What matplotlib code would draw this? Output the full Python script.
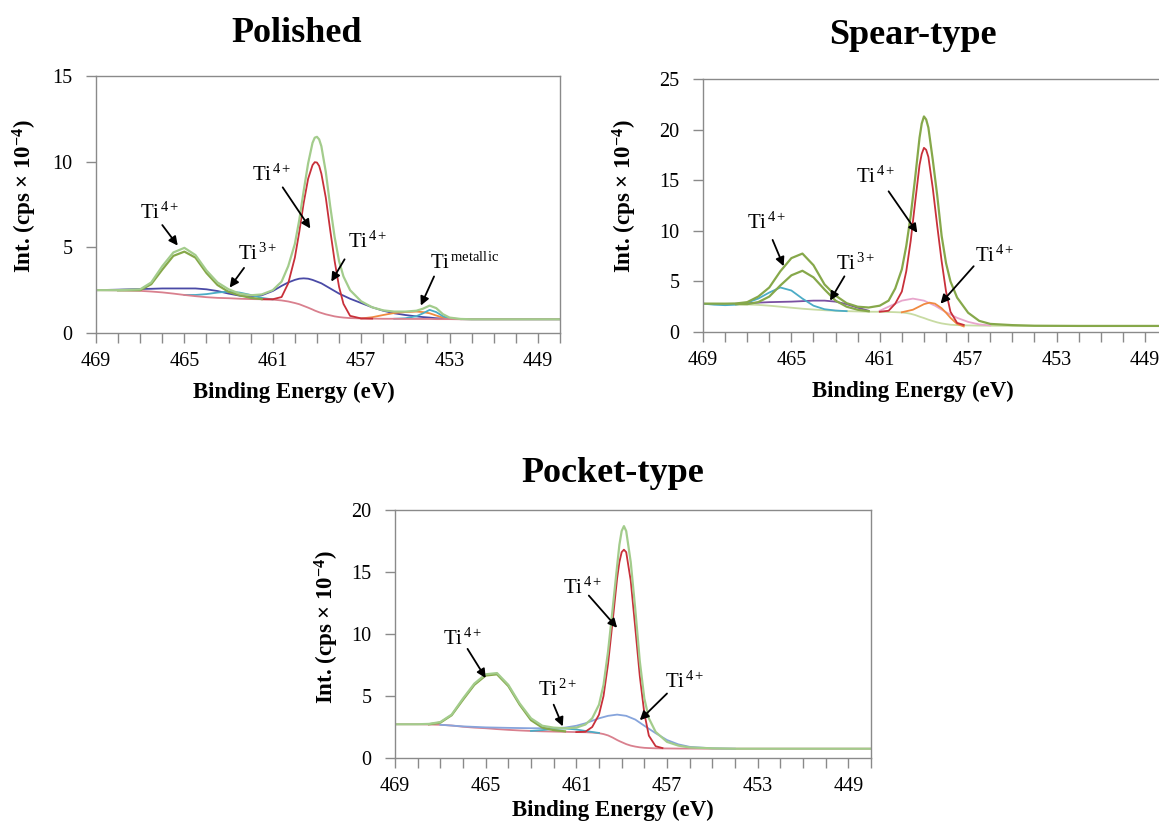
import matplotlib
matplotlib.use("Agg")
import matplotlib.pyplot as plt
from matplotlib.ticker import FixedLocator, MultipleLocator

plt.rcParams["font.family"] = "Liberation Serif"
plt.rcParams["mathtext.fontset"] = "custom"
plt.rcParams["mathtext.rm"] = "Liberation Serif"
plt.rcParams["mathtext.it"] = "Liberation Serif:italic"
plt.rcParams["mathtext.bf"] = "Liberation Serif:bold"

# ---------------- Polished ----------------
pol_be = [469, 468, 467, 466.5, 466, 465.5, 465, 464.5, 464, 463.5, 463, 462.5, 462, 461.5, 461,
          460.6, 460.3, 460.0, 459.8, 459.6, 459.4, 459.2, 459.1, 459.0, 458.9, 458.8, 458.6, 458.4,
          458.2, 458.0, 457.8, 457.5, 457.0, 456.5, 456.0, 455.5, 455.0, 454.5, 454.2, 453.9, 453.6,
          453.3, 453.0, 452.5, 452.0, 450.0, 448.0]
pol_env = [2.50, 2.50, 2.55, 2.95, 3.90, 4.70, 4.97, 4.55, 3.65, 2.95, 2.55, 2.30, 2.20, 2.25, 2.50,
           3.00, 3.90, 5.20, 6.60, 8.30, 9.90, 11.10, 11.40, 11.45, 11.30, 10.90, 9.40, 7.40,
           5.60, 4.20, 3.30, 2.50, 1.85, 1.50, 1.32, 1.25, 1.25, 1.30, 1.42, 1.60, 1.45,
           1.10, 0.90, 0.82, 0.80, 0.80, 0.80]
pol_bg = [2.50, 2.49, 2.46, 2.42, 2.37, 2.30, 2.22, 2.15, 2.09, 2.05, 2.03, 2.00, 1.98, 1.97, 1.95,
          1.90, 1.84, 1.75, 1.68, 1.58, 1.48, 1.37, 1.31, 1.26, 1.21, 1.17, 1.09, 1.03,
          0.97, 0.93, 0.90, 0.87, 0.85, 0.84, 0.83, 0.83, 0.82, 0.82, 0.82, 0.82, 0.81,
          0.81, 0.81, 0.80, 0.80, 0.80, 0.80]
pol_broad = [2.50, 2.53, 2.57, 2.58, 2.60, 2.60, 2.60, 2.60, 2.55, 2.45, 2.30, 2.18, 2.12, 2.20, 2.45,
             2.75, 2.95, 3.10, 3.17, 3.19, 3.17, 3.10, 3.05, 3.00, 2.95, 2.90, 2.75, 2.60,
             2.45, 2.30, 2.18, 2.00, 1.75, 1.50, 1.30, 1.15, 1.05, 0.97, 0.93, 0.90, 0.86,
             0.84, 0.82, 0.81, 0.80, 0.80, 0.80]
pol_red_be = [461.5, 461, 460.6, 460.3, 460.0, 459.8, 459.6, 459.4, 459.2, 459.1, 459.0, 458.9,
              458.8, 458.6, 458.4, 458.2, 458.0, 457.8, 457.5, 457.0, 456.5]
pol_red = [1.97, 1.97, 2.10, 2.90, 4.40, 5.90, 7.60, 9.00, 9.80, 9.97, 9.95, 9.75,
           9.30, 7.90, 6.00, 4.20, 2.70, 1.70, 1.00, 0.85, 0.84]
pol_sat_be = [468, 467, 466.5, 466, 465.5, 465, 464.5, 464, 463.5, 463, 462.5, 462, 461.5]
pol_sat = [2.49, 2.50, 2.85, 3.70, 4.50, 4.75, 4.40, 3.50, 2.80, 2.40, 2.20, 2.05, 1.98]
pol_ti3_be = [465, 464.5, 464, 463.5, 463, 462.5, 462, 461.5, 461]
pol_ti3 = [2.22, 2.22, 2.27, 2.36, 2.42, 2.36, 2.22, 2.05, 1.96]
pol_meta_be = [457.0, 456.5, 456.0, 455.5, 455.0, 454.5, 454.2, 453.9, 453.6, 453.3, 453.0, 452.5]
pol_meta = [0.85, 0.92, 1.05, 1.17, 1.22, 1.25, 1.22, 1.15, 1.02, 0.90, 0.83, 0.81]
pol_metb_be = [455.5, 455.0, 454.5, 454.2, 453.9, 453.6, 453.3, 453.0, 452.5]
pol_metb = [0.83, 0.86, 0.98, 1.15, 1.35, 1.22, 0.98, 0.85, 0.81]

# ---------------- Spear-type ----------------
sp_be = [469, 468, 467.5, 467, 466.5, 466, 465.5, 465, 464.5, 464, 463.5, 463, 462.5, 462, 461.5, 461,
         460.6, 460.3, 460.0, 459.8, 459.6, 459.4, 459.2, 459.1, 459.0, 458.9, 458.8, 458.6, 458.4,
         458.2, 458.0, 457.8, 457.5, 457.0, 456.5, 456, 455, 454, 452, 450, 448]
sp_env = [2.80, 2.80, 2.82, 2.95, 3.50, 4.40, 6.00, 7.30, 7.75, 6.60, 4.70, 3.60, 2.85, 2.50, 2.42, 2.60,
          3.10, 4.30, 6.20, 8.50, 11.50, 15.20, 19.20, 20.60, 21.30, 21.00, 20.20, 17.00, 13.50,
          9.50, 6.80, 5.00, 3.40, 1.90, 1.10, 0.80, 0.68, 0.62, 0.60, 0.60, 0.60]
sp_bg = [2.80, 2.78, 2.75, 2.72, 2.68, 2.60, 2.50, 2.40, 2.30, 2.22, 2.15, 2.10, 2.06, 2.03, 2.00, 2.00,
         1.98, 1.96, 1.93, 1.88, 1.80, 1.68, 1.52, 1.45, 1.38, 1.30, 1.22, 1.08, 0.95,
         0.85, 0.78, 0.72, 0.68, 0.65, 0.63, 0.62, 0.61, 0.60, 0.60, 0.60, 0.60]
sp_red_be = [461, 460.6, 460.3, 460.0, 459.8, 459.6, 459.4, 459.2, 459.1, 459.0, 458.9, 458.8,
             458.6, 458.4, 458.2, 458.0, 457.8, 457.5, 457.2]
sp_red = [2.0, 2.1, 2.8, 4.0, 6.0, 9.0, 12.8, 16.5, 17.6, 18.2, 18.0, 17.3,
          14.2, 10.5, 7.0, 4.0, 2.0, 0.9, 0.7]
sp_sat_be = [467.5, 467, 466.5, 466, 465.5, 465, 464.5, 464, 463.5, 463, 462.5, 462, 461.5]
sp_sat = [2.75, 2.75, 2.95, 3.5, 4.6, 5.6, 6.05, 5.4, 4.2, 3.1, 2.5, 2.2, 2.05]
sp_teal_be = [469, 468.5, 468, 467.5, 467, 466.5, 466, 465.5, 465, 464.5, 464, 463.5, 463, 462.5]
sp_teal = [2.8, 2.7, 2.65, 2.7, 2.9, 3.3, 3.9, 4.4, 4.1, 3.3, 2.6, 2.25, 2.12, 2.06]
sp_ti3_be = [467.5, 467, 466.5, 466, 465, 464, 463.5, 463, 462.5, 462, 461.5]
sp_ti3 = [2.8, 2.85, 2.9, 2.95, 3.0, 3.1, 3.1, 3.0, 2.75, 2.4, 2.1]
sp_pink_be = [461, 460.5, 460.0, 459.5, 459.0, 458.5, 458.0, 457.5, 457.0, 456.5, 456]
sp_pink = [2.1, 2.6, 3.1, 3.3, 3.1, 2.6, 1.95, 1.4, 1.0, 0.75, 0.65]
sp_or_be = [460, 459.5, 459.0, 458.75, 458.5, 458.2, 458.0, 457.8, 457.5, 457.2]
sp_or = [1.95, 2.2, 2.75, 2.9, 2.8, 2.35, 1.9, 1.4, 0.8, 0.55]

# ---------------- Pocket-type ----------------
pk_be = sp_be
pk_env = [2.72, 2.72, 2.75, 2.90, 3.50, 4.80, 6.00, 6.75, 6.85, 5.90, 4.40, 3.20, 2.60, 2.45, 2.40, 2.45,
          2.70, 3.20, 4.30, 5.90, 8.60, 12.00, 15.50, 17.20, 18.30, 18.70, 18.30, 15.80, 12.00,
          7.80, 4.80, 3.20, 2.10, 1.30, 1.00, 0.85, 0.78, 0.75, 0.75, 0.75, 0.75]
pk_bg = [2.72, 2.72, 2.70, 2.68, 2.62, 2.52, 2.45, 2.40, 2.33, 2.27, 2.22, 2.18, 2.15, 2.13, 2.11, 2.09,
         2.08, 2.05, 2.00, 1.93, 1.82, 1.65, 1.45, 1.36, 1.28, 1.20, 1.12, 1.00, 0.92,
         0.86, 0.82, 0.80, 0.78, 0.77, 0.76, 0.76, 0.75, 0.75, 0.75, 0.75, 0.75]
pk_red_be = sp_red_be
pk_red = [2.09, 2.12, 2.5, 3.5, 5.0, 7.6, 11.0, 14.5, 15.8, 16.6, 16.8, 16.6,
          14.3, 10.5, 6.6, 3.6, 1.8, 0.95, 0.8]
pk_blue_be = [467, 466, 465, 464, 463, 462, 461.5, 461, 460.6, 460.3, 460.0, 459.6, 459.2, 458.8,
              458.4, 458.0, 457.5, 457.0, 456.5, 456, 455, 454]
pk_blue = [2.68, 2.55, 2.47, 2.43, 2.4, 2.4, 2.45, 2.6, 2.8, 3.0, 3.2, 3.4, 3.5, 3.4,
           3.1, 2.6, 2.0, 1.45, 1.1, 0.9, 0.78, 0.75]
pk_sat_be = [467.5, 467, 466.5, 466, 465.5, 465, 464.5, 464, 463.5, 463, 462.5, 462, 461.5]
pk_sat = [2.72, 2.85, 3.45, 4.7, 5.9, 6.65, 6.75, 5.8, 4.3, 3.05, 2.45, 2.25, 2.15]
pk_ti2_be = [463, 462.5, 462, 461.5, 461, 460.5, 460]
pk_ti2 = [2.18, 2.25, 2.35, 2.38, 2.3, 2.15, 2.02]

xtick_labels = [469, 465, 461, 457, 453, 449]

ENV = "#a3cc8c"
OLIVE = "#86a84a"
RED = "#c8303a"
BGPINK = "#d9808e"
NAVY = "#4a4aa6"
TEAL = "#4bacc6"
ORANGE = "#f08a40"
PURPLE = "#7a50a2"
PINK = "#e8a6cc"
BGLIME = "#c8dba3"
LBLUE = "#86a4dc"
LW = 1.3

W, H = 1159, 826
fig = plt.figure(figsize=(W / 100, H / 100), dpi=100)


def px_axes(left, top, right, bottom):
    return fig.add_axes([left / W, 1 - bottom / H, (right - left) / W, (bottom - top) / H])


def style_axes(ax, ymax, box, xlab_px, ylab_px):
    left, top, right, bottom = box
    ax.set_xlim(469, 448)
    ax.set_ylim(0, ymax)
    ax.xaxis.set_major_locator(FixedLocator(xtick_labels))
    ax.xaxis.set_minor_locator(MultipleLocator(1))
    ax.yaxis.set_major_locator(MultipleLocator(5))
    for s in ax.spines.values():
        s.set_color("#8a8a8a")
        s.set_linewidth(1.0)
    ax.tick_params(axis="both", which="both", direction="out", length=7, width=1,
                   color="#8a8a8a", labelsize=14.5)
    ax.tick_params(axis="x", pad=7)
    ax.tick_params(axis="y", pad=10)
    ax.set_xlabel("Binding Energy (eV)", fontsize=16.5, fontweight="bold",
                  ha="center", va="center")
    ax.set_ylabel("Int. (cps × 10" + r"$^{\mathbf{-4}}$" + ")", fontsize=16.5,
                  fontweight="bold", ha="center", va="center")
    ax.xaxis.set_label_coords((xlab_px[0] - left) / (right - left),
                              (bottom - xlab_px[1]) / (bottom - top))
    ax.yaxis.set_label_coords((ylab_px[0] - left) / (right - left),
                              (bottom - ylab_px[1]) / (bottom - top))


def ti_label(ax, pos, charge, tail, tip):
    ax.text(pos[0], pos[1], "Ti" + r"$^{\,%s}$" % charge, fontsize=15,
            ha="center", va="center")
    ax.annotate("", xy=tip, xytext=tail,
                arrowprops=dict(arrowstyle="-|>", color="black", lw=1.3,
                                mutation_scale=13, shrinkA=0, shrinkB=0))


# Polished
box1 = (96, 76, 560, 333)
ax1 = px_axes(*box1)
style_axes(ax1, 15, box1, (294, 392), (25, 196))
ax1.plot(pol_be, pol_broad, color=NAVY, lw=LW)
ax1.plot(pol_ti3_be, pol_ti3, color=TEAL, lw=LW)
ax1.plot(pol_meta_be, pol_meta, color=ORANGE, lw=LW)
ax1.plot(pol_metb_be, pol_metb, color=TEAL, lw=LW)
ax1.plot(pol_be, pol_bg, color=BGPINK, lw=LW)
ax1.plot(pol_red_be, pol_red, color=RED, lw=LW)
ax1.plot(pol_sat_be, pol_sat, color=OLIVE, lw=LW + 0.3)
ax1.plot(pol_be, pol_env, color=ENV, lw=LW + 0.3)
ti_label(ax1, (466.1, 7.0), "4+", (466.0, 6.3), (465.3, 5.1))
ti_label(ax1, (461.7, 4.6), "3+", (462.3, 3.8), (462.95, 2.65))
ti_label(ax1, (461.05, 9.2), "4+", (460.55, 8.5), (459.3, 6.1))
ti_label(ax1, (456.7, 5.3), "4+", (457.75, 4.3), (458.35, 3.0))
ti_label(ax1, (452.3, 4.05), r"\mathrm{metallic}", (453.7, 3.3), (454.3, 1.6))

# Spear-type
box2 = (703, 79, 1167, 332)
ax2 = px_axes(*box2)
style_axes(ax2, 25, box2, (913, 391), (625, 196))
ax2.plot(sp_be, sp_bg, color=BGLIME, lw=LW)
ax2.plot(sp_ti3_be, sp_ti3, color=PURPLE, lw=LW)
ax2.plot(sp_teal_be, sp_teal, color=TEAL, lw=LW)
ax2.plot(sp_pink_be, sp_pink, color=PINK, lw=LW)
ax2.plot(sp_or_be, sp_or, color=ORANGE, lw=LW)
ax2.plot(sp_red_be, sp_red, color=RED, lw=LW)
ax2.plot(sp_sat_be, sp_sat, color=OLIVE, lw=LW + 0.3)
ax2.plot(sp_be, sp_env, color=OLIVE, lw=LW + 0.3)
ti_label(ax2, (466.1, 10.8), "4+", (465.85, 9.1), (465.35, 6.5))
ti_label(ax2, (462.1, 6.7), "3+", (462.6, 5.5), (463.25, 3.1))
ti_label(ax2, (461.2, 15.3), "4+", (460.6, 13.9), (459.3, 9.8))
ti_label(ax2, (455.8, 7.5), "4+", (456.75, 6.5), (458.25, 2.8))

# Pocket-type
box3 = (395, 510, 871, 758)
ax3 = px_axes(*box3)
style_axes(ax3, 20, box3, (613, 810), (327, 627))
ax3.plot(pk_be, pk_bg, color=BGPINK, lw=LW)
ax3.plot(pk_blue_be, pk_blue, color=LBLUE, lw=LW)
ax3.plot(pk_ti2_be, pk_ti2, color=TEAL, lw=LW)
ax3.plot(pk_red_be, pk_red, color=RED, lw=LW)
ax3.plot(pk_sat_be, pk_sat, color=OLIVE, lw=LW + 0.3)
ax3.plot(pk_be, pk_env, color=ENV, lw=LW + 0.3)
ti_label(ax3, (466.0, 9.6), "4+", (465.8, 8.8), (465.0, 6.45))
ti_label(ax3, (461.8, 5.5), "2+", (462.0, 4.3), (461.6, 2.55))
ti_label(ax3, (460.7, 13.7), "4+", (460.45, 13.1), (459.2, 10.5))
ti_label(ax3, (456.2, 6.1), "4+", (457.0, 5.2), (458.2, 3.05))

fig.text(297 / W, 1 - 34 / H, "Polished", fontsize=26, fontweight="bold", ha="center", va="center")
fig.text(913 / W, 1 - 36 / H, "Spear-type", fontsize=26, fontweight="bold", ha="center", va="center")
fig.text(613 / W, 1 - 473 / H, "Pocket-type", fontsize=26, fontweight="bold", ha="center", va="center")

fig.savefig("out.png", dpi=100)
